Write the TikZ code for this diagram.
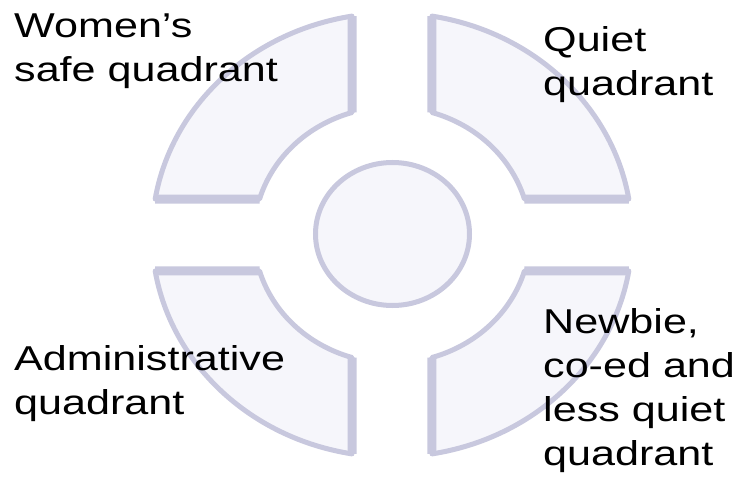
\documentclass[tikz,border=0pt]{standalone}
\usepackage{fontspec}
\setmainfont[FakeStretch=1.25]{Liberation Sans}
\definecolor{qfill}{HTML}{F6F6FB}
\definecolor{qline}{HTML}{C8C8DE}
\tikzset{
  piecearc/.style={draw=qline, line width=5pt, fill=qfill, line join=round},
  pieceedge/.style={draw=qline, line width=9pt, line cap=butt},
  ring/.style={draw=qline, line width=5pt, fill=qfill},
  lbl/.style={anchor=base west, inner sep=0pt, align=left, text=black,
    font=\fontsize{34.5pt}{44pt}\selectfont}
}
\newcommand{\quadpiece}{%
  \path[piecearc] (99.59:240 and 222)
    arc[start angle=99.59, end angle=170.67, x radius=240, y radius=222]
    -- (163.67:138 and 128)
    arc[start angle=163.67, end angle=106.85, x radius=138, y radius=128]
    -- cycle;
  \draw[pieceedge] (99.59:240 and 222) -- (106.85:138 and 128);
  \draw[pieceedge] (170.67:240 and 222) -- (163.67:138 and 128);
}
\begin{document}
\begin{tikzpicture}[x=1pt,y=1pt]
\useasboundingbox[fill=white] (-392,-265) rectangle (346,235);
\begin{scope}\quadpiece\end{scope}
\begin{scope}[xscale=-1]\quadpiece\end{scope}
\begin{scope}[yscale=-1]\quadpiece\end{scope}
\begin{scope}[xscale=-1,yscale=-1]\quadpiece\end{scope}
\path[ring] (0.5,1) ellipse[x radius=77, y radius=71.5];
\node[lbl] (women) at (-378,153) {Women’s\\safe quadrant};
\node[lbl] (quiet) at (151,139) {Quiet\\quadrant};
\node[lbl] (admin) at (-378,-179) {Administrative\\quadrant};
\node[lbl] (newbie) at (151,-230) {Newbie,\\co-ed and\\less quiet\\quadrant};
\end{tikzpicture}
\end{document}
